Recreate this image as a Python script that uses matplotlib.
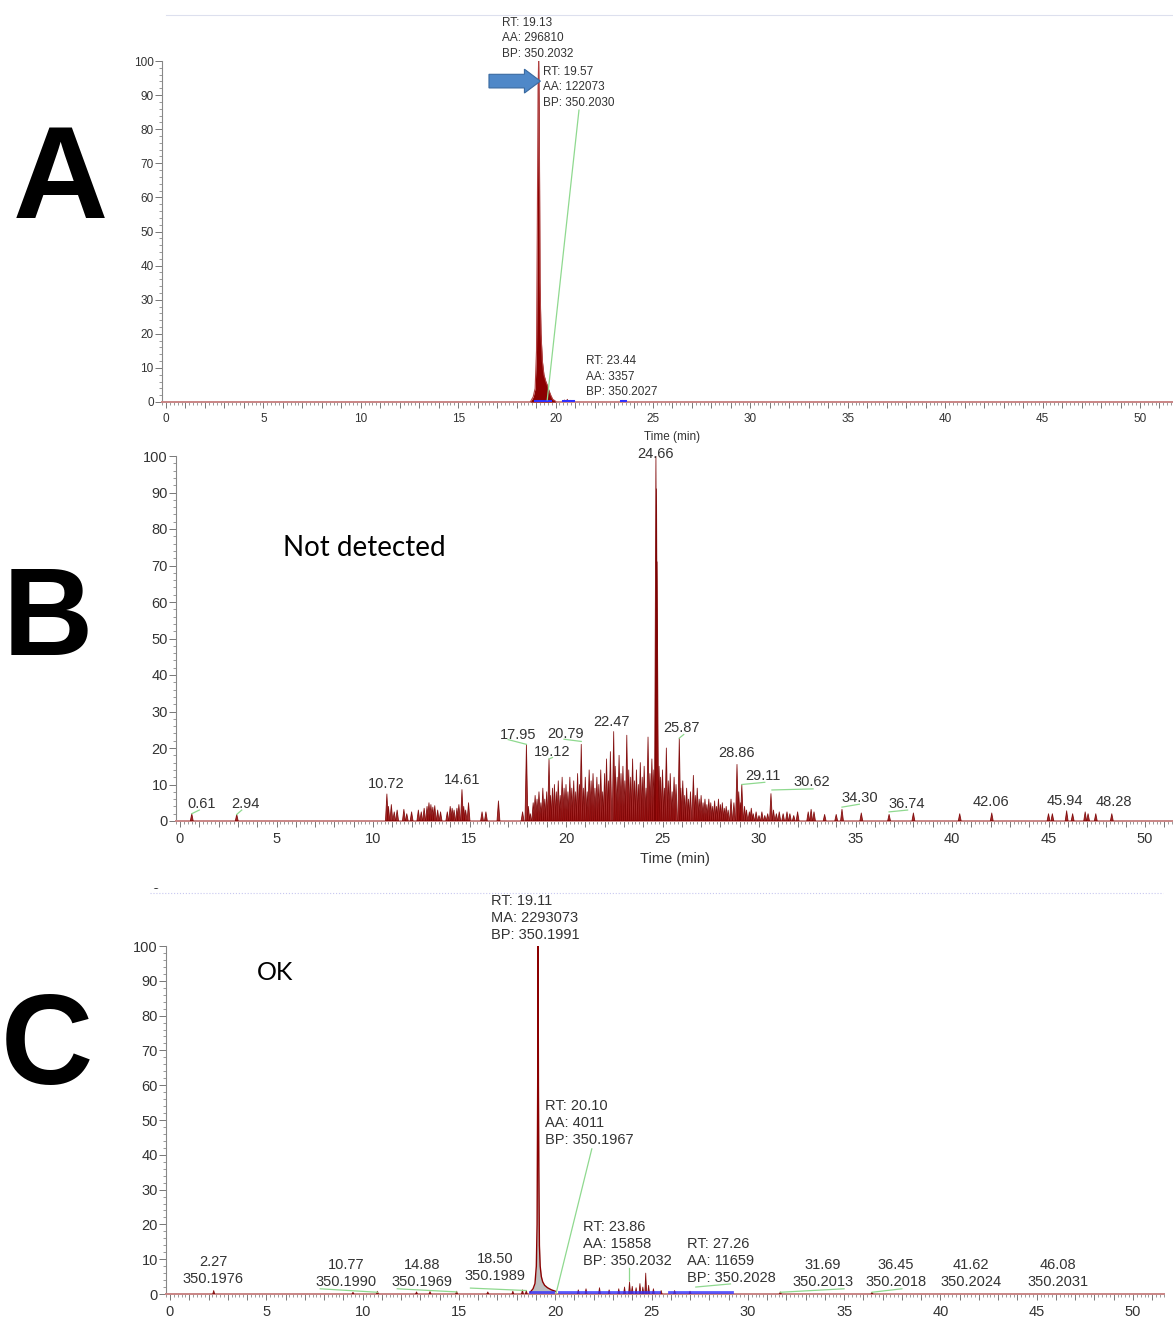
import numpy as np
import matplotlib.pyplot as plt
from matplotlib.collections import PolyCollection
from matplotlib.patches import Polygon
from matplotlib.ticker import MultipleLocator, FuncFormatter
from matplotlib.transforms import Bbox

plt.rcParams['font.family'] = ['Liberation Sans', 'DejaVu Sans']

W, H = 1173, 1322
DARK = '#8b0000'
EDGE = '#b04040'
GREEN = '#8fd98f'
BLUE = '#3030ff'
TXT = '#333333'

# ---- Panel A : main peak trace ----
a_t = [18.70, 18.85, 18.95, 19.02, 19.06, 19.10, 19.13, 19.16, 19.20, 19.25,
       19.32, 19.40, 19.50, 19.57, 19.65, 19.75, 19.85, 20.00]
a_h = [0.0, 1.5, 4.0, 15.0, 50.0, 92.0, 100.0, 85.0, 35.0, 20.0,
       12.0, 8.0, 6.0, 5.0, 3.5, 2.0, 0.8, 0.2]
a_small_t = [20.45, 20.60, 20.75, 23.44]
a_small_h = [0.6, 0.8, 0.5, 0.5]
a_blue = [(18.95, 19.70), (20.40, 20.90), (23.35, 23.55)]

# ---- Panel B : spikes (time, relative abundance) ----
b_t = [0.61, 2.94,
       10.72, 10.80, 10.95, 11.10, 11.25, 11.60, 11.75, 12.00, 12.35, 12.50, 12.65,
       12.80, 12.90, 13.00, 13.10, 13.20, 13.35, 13.50, 13.85, 14.00, 14.10, 14.20,
       14.35, 14.45, 14.61, 14.70, 14.80, 14.95, 15.65, 15.85, 16.50,
       17.75, 17.95, 18.05, 18.15, 18.30, 18.40, 18.50, 18.60, 18.70, 18.80, 18.90,
       19.00, 19.12, 19.20, 19.30, 19.40, 19.50, 19.60, 19.70, 19.80, 19.90, 20.00,
       20.10, 20.20, 20.30, 20.40, 20.50, 20.60, 20.70, 20.79, 20.90, 21.00, 21.10,
       21.20, 21.30, 21.40, 21.50, 21.60, 21.70, 21.80, 21.90, 22.00, 22.10, 22.20,
       22.30, 22.47, 22.55, 22.65, 22.75, 22.85, 22.95, 23.05, 23.15, 23.25, 23.35,
       23.45, 23.55, 23.65, 23.75, 23.85, 23.95, 24.05, 24.15, 24.25, 24.35, 24.45,
       24.55, 24.66, 24.69, 24.72, 24.82, 24.90, 25.00, 25.10, 25.20, 25.30, 25.40,
       25.50, 25.60, 25.70, 25.87, 25.95, 26.05, 26.15, 26.25, 26.35, 26.45, 26.60,
       26.70, 26.80, 26.90, 27.00, 27.10, 27.20, 27.30, 27.40, 27.50, 27.60, 27.70,
       27.80, 27.90, 28.00, 28.10, 28.20, 28.30, 28.40, 28.55, 28.70, 28.86, 28.95,
       29.05, 29.11, 29.25, 29.35, 29.50, 29.60, 29.70, 29.85, 30.00, 30.15, 30.30,
       30.45, 30.62, 30.75, 30.90, 31.05, 31.25, 31.45, 31.60, 31.80, 32.00, 32.55,
       32.70, 32.85, 33.40, 34.00, 34.30, 35.30, 36.74, 38.00, 40.40, 42.06, 45.00,
       45.20, 45.94, 46.25, 46.90, 47.05, 47.45, 48.28]
b_h = [2.0, 1.8,
       7.4, 4.0, 4.5, 2.5, 3.0, 3.2, 2.0, 2.5, 3.0, 2.5, 3.5,
       4.0, 5.0, 4.5, 3.8, 4.2, 3.0, 2.5, 2.5, 4.0, 3.5, 3.0,
       3.5, 4.5, 8.6, 4.0, 3.0, 5.0, 2.5, 2.5, 5.5,
       2.5, 21.0, 4.0, 2.0, 5.0, 7.0, 6.0, 8.0, 5.0, 9.0, 6.0,
       8.0, 17.0, 7.0, 9.0, 10.0, 8.0, 11.0, 7.0, 12.0, 9.0, 10.0,
       8.0, 12.0, 9.0, 11.0, 8.0, 13.0, 10.0, 21.0, 9.0, 12.0, 8.0,
       14.0, 11.0, 13.0, 9.0, 12.0, 10.0, 14.0, 8.0, 13.0, 17.0, 11.0,
       19.0, 24.5, 15.0, 12.0, 18.0, 13.0, 15.0, 11.0, 23.5, 14.0, 12.0,
       17.0, 11.0, 14.0, 10.0, 16.0, 12.0, 15.0, 9.0, 23.0, 13.0, 17.0,
       14.0, 100.0, 91.0, 71.0, 15.0, 12.0, 14.0, 9.0, 20.0, 11.0, 13.0,
       8.0, 12.0, 10.0, 22.7, 9.0, 11.0, 7.0, 9.0, 6.0, 8.0, 12.5,
       7.0, 9.0, 6.0, 7.0, 5.0, 6.0, 4.5, 6.0, 5.0, 4.0, 5.5,
       4.0, 6.0, 4.5, 5.0, 3.5, 4.0, 3.0, 6.0, 5.0, 15.5, 8.0,
       5.0, 10.0, 4.0, 3.0, 2.5, 3.5, 2.0, 2.5, 1.5, 2.5, 1.5,
       2.0, 7.5, 3.0, 2.0, 2.5, 2.0, 2.5, 2.0, 1.5, 2.5, 2.5,
       3.2, 2.5, 1.8, 1.8, 3.2, 2.2, 1.8, 2.2, 2.0, 2.2, 2.0,
       2.0, 2.8, 2.0, 2.5, 2.0, 2.0, 2.0]
b_labels = ['0.61', '2.94', '10.72', '14.61', '17.95', '19.12', '20.79', '22.47',
            '25.87', '28.86', '29.11', '30.62', '34.30', '36.74', '42.06', '45.94', '48.28']
b_label_x = [1.14, 3.37, 10.67, 14.61, 17.51, 19.27, 20.00, 22.38,
             26.01, 28.81, 30.21, 32.75, 35.23, 37.67, 42.02, 45.85, 48.39]
b_label_y = [4.7, 4.7, 10.1, 11.2, 23.6, 18.9, 23.8, 27.1,
             25.5, 18.6, 12.3, 10.7, 6.3, 4.7, 5.2, 5.5, 5.2]

# ---- Panel C : main peak trace + small features ----
c_t = [18.70, 18.85, 18.95, 19.02, 19.06, 19.09, 19.11, 19.13, 19.15, 19.18,
       19.22, 19.28, 19.35, 19.45, 19.60, 19.80, 20.00]
c_h = [0.5, 1.5, 3.0, 8.0, 20.0, 60.0, 100.0, 60.0, 36.0, 14.0,
       8.0, 5.0, 3.5, 2.5, 1.8, 1.2, 0.8]
c_small_t = [2.27, 9.50, 10.77, 12.80, 13.50, 14.88, 16.50, 17.80, 18.30, 18.50,
             21.20, 21.60, 22.30, 22.80, 23.30, 23.60, 23.86, 24.00, 24.20, 24.40,
             24.55, 24.70, 24.85, 25.10, 25.50, 26.20, 27.00, 31.69, 36.45]
c_small_h = [1.0, 0.5, 0.8, 0.6, 0.7, 0.8, 0.6, 0.8, 1.2, 1.0,
             1.2, 1.5, 1.8, 1.2, 1.5, 2.0, 3.5, 2.2, 1.8, 3.0,
             2.0, 6.0, 2.5, 1.5, 1.0, 1.0, 0.8, 0.6, 0.5]
c_blue = [(18.70, 19.90), (20.20, 25.40), (25.90, 29.20)]
c_labels_rt = ['2.27', '10.77', '14.88', '18.50', '31.69', '36.45', '41.62', '46.08']
c_labels_bp = ['350.1976', '350.1990', '350.1969', '350.1989',
               '350.2013', '350.2018', '350.2024', '350.2031']
c_label_x = [2.23, 9.14, 13.08, 16.87, 33.90, 37.70, 41.59, 46.10]
c_label_y = [9.2, 8.3, 8.3, 10.1, 8.3, 8.3, 8.3, 8.3]

fig = plt.figure(figsize=(W / 100, H / 100), dpi=100)


def panel(x0, sx, y0, sy, xlim, ylim, fs):
    left, right = x0 + xlim[0] * sx, x0 + xlim[1] * sx
    bottom, top = y0 - ylim[0] * sy, y0 - ylim[1] * sy
    ax = fig.add_axes([left / W, 1 - bottom / H, (right - left) / W, (bottom - top) / H])
    ax.set_xlim(xlim)
    ax.set_ylim(ylim)
    for s in ['top', 'right']:
        ax.spines[s].set_visible(False)
    ax.spines['left'].set_color('#888888')
    ax.spines['left'].set_linewidth(0.8)
    ax.spines['bottom'].set_color('#c98585')
    ax.spines['bottom'].set_linewidth(1.4)
    ax.xaxis.set_major_locator(MultipleLocator(1))
    ax.xaxis.set_minor_locator(MultipleLocator(0.2))
    ax.xaxis.set_major_formatter(FuncFormatter(lambda v, p: f'{v:.0f}' if round(v) % 5 == 0 else ''))
    ax.yaxis.set_major_locator(MultipleLocator(10))
    ax.yaxis.set_minor_locator(MultipleLocator(2))
    ax.tick_params(axis='x', which='major', length=4.5, width=0.7, color='#777777',
                   labelsize=fs, labelcolor=TXT, pad=3.5)
    ax.tick_params(axis='x', which='minor', length=2.2, width=0.6, color='#888888')
    ax.tick_params(axis='y', which='major', length=5, width=0.7, color='#777777',
                   labelsize=fs, labelcolor=TXT, pad=1)
    ax.tick_params(axis='y', which='minor', length=2.5, width=0.6, color='#888888')
    return ax


def spikes(ax, t, h, w=0.05):
    polys = [[(ti - w, 0), (ti, hi), (ti + w, 0)] for ti, hi in zip(t, h)]
    ax.add_collection(PolyCollection(polys, facecolors='#9a1010', edgecolors='#7a0000',
                                     linewidths=0.6, alpha=0.88, zorder=3))


def block(ax, x, y, lines, step, fs, ha='left'):
    for i, s in enumerate(lines):
        ax.annotate(s, (x, y), xytext=(0, -i * step), textcoords='offset points',
                    ha=ha, va='center', fontsize=fs, color=TXT, annotation_clip=False)


def gline(ax, xs, ys):
    ax.plot(xs, ys, color=GREEN, lw=0.9, clip_on=False, zorder=4)


# ================= Panel A =================
axA = panel(166, 19.48, 402, 3.41, (-0.2, 51.7), (0, 100), 8.5)
axA.fill_between(a_t, a_h, color=DARK, lw=0, zorder=3)
axA.plot(a_t, a_h, color=EDGE, lw=0.8, zorder=3)
spikes(axA, a_small_t, a_small_h)
for s0, s1 in a_blue:
    axA.plot([s0, s1], [0.4, 0.4], color=BLUE, lw=2.2, zorder=4)
block(axA, 17.25, 111.2, ['RT: 19.13', 'AA: 296810', 'BP: 350.2032'], 11.2, 8.5)
block(axA, 19.35, 96.8, ['RT: 19.57', 'AA: 122073', 'BP: 350.2030'], 11.2, 8.5)
block(axA, 21.56, 12.0, ['RT: 23.44', 'AA: 3357', 'BP: 350.2027'], 11.2, 8.5)
gline(axA, [21.2, 19.57], [85.6, 0.6])
arrow = Polygon([(16.58, 96.1), (18.40, 96.1), (18.40, 97.6), (19.22, 94.1),
                 (18.40, 90.6), (18.40, 92.1), (16.58, 92.1)], closed=True,
                fc='#4f88c8', ec='#3a6aa0', lw=0.8, clip_on=False, zorder=5)
axA.add_patch(arrow)
axA.set_xlabel('Time (min)', fontsize=8.5, color=TXT, labelpad=1)
axA.xaxis.set_label_coords((672 - 162) / (1173 - 162), -0.086)

# ================= Panel B =================
axB = panel(180, 19.3, 821, 3.65, (-0.2, 51.5), (0, 100), 10.5)
spikes(axB, b_t, b_h, w=0.075)
for s, x, y in zip(b_labels, b_label_x, b_label_y):
    axB.text(x, y, s, ha='center', va='center', fontsize=10.5, color=TXT, clip_on=False)
gline(axB, [0.61, 1.0], [2.0, 3.0])
gline(axB, [2.94, 3.2], [1.8, 3.0])
gline(axB, [17.0, 17.95], [22.3, 21.0])
gline(axB, [19.12, 19.3], [17.0, 17.4])
gline(axB, [19.9, 20.79], [22.4, 21.8])
gline(axB, [25.87, 26.1], [22.7, 23.7])
gline(axB, [29.11, 30.3], [10.0, 10.6])
gline(axB, [30.67, 32.8], [8.5, 8.8])
gline(axB, [34.3, 35.2], [3.8, 4.6])
gline(axB, [36.74, 37.7], [2.5, 3.0])
# peak label cut by the top of the panel, as in the original screenshot
top_lbl = axB.text(24.66, 100.6, '24.66', ha='center', va='center', fontsize=10.5, color=TXT)
top_lbl.set_clip_on(True)
top_lbl.set_clip_box(Bbox.from_extents(600, H - 470, 720, H - 447))
axB.text(5.34, 74.8, 'Not detected', ha='left', va='center', fontsize=20,
         family=['Lato', 'DejaVu Sans'], color='black')
axB.set_xlabel('Time (min)', fontsize=10.5, color=TXT, labelpad=4)

# ================= Panel C =================
axC = panel(170, 19.26, 1294, 3.48, (-0.2, 51.6), (0, 100), 10.5)
axC.fill_between(c_t, c_h, color='#bdbdbd', lw=0, zorder=2)
axC.plot(c_t, c_h, color=DARK, lw=1.0, zorder=3)
spikes(axC, c_small_t, c_small_h)
for s0, s1 in c_blue:
    axC.plot([s0, s1], [0.6, 0.6], color=BLUE, lw=2.0, alpha=0.8, zorder=4)
block(axC, 16.67, 112.9, ['RT: 19.11', 'MA: 2293073', 'BP: 350.1991'], 12.2, 10.5)
block(axC, 19.47, 54.0, ['RT: 20.10', 'AA: 4011', 'BP: 350.1967'], 12.2, 10.5)
block(axC, 21.44, 19.3, ['RT: 23.86', 'AA: 15858', 'BP: 350.2032'], 12.2, 10.5)
block(axC, 26.84, 14.4, ['RT: 27.26', 'AA: 11659', 'BP: 350.2028'], 12.2, 10.5)
for r, b, x, y in zip(c_labels_rt, c_labels_bp, c_label_x, c_label_y):
    block(axC, x, y, [r, b], 12.2, 10.5, ha='center')
gline(axC, [21.9, 20.05], [41.7, 0.3])
gline(axC, [23.83, 23.83], [7.5, 4.0])
gline(axC, [27.3, 29.1], [2.0, 2.9])
gline(axC, [7.8, 10.77], [1.5, 0.5])
gline(axC, [11.8, 14.88], [1.5, 0.6])
gline(axC, [15.6, 18.5], [1.7, 1.0])
gline(axC, [31.69, 35.0], [0.5, 1.5])
gline(axC, [36.45, 38.0], [0.5, 1.5])
axC.text(4.52, 92.5, 'OK', ha='left', va='center', fontsize=18,
         family=['Lato', 'DejaVu Sans'], color='black')

# ---- decorations: frame lines, cut-off labels, panel letters ----
fig.add_artist(plt.Line2D([166 / W, 1173 / W], [1 - 15 / H] * 2, color='#dde0ee', lw=0.8))
fig.add_artist(plt.Line2D([150 / W, 1163 / W], [1 - 893 / H] * 2, color='#c8c8f0', lw=0.8,
                          ls=':'))
z1 = fig.text(152 / W, 1 - 9 / H, '0', ha='center', va='center', fontsize=8.5, color=TXT)
z1.set_clip_box(Bbox.from_extents(140, H - 20, 165, H - 12))
z1.set_clip_on(True)
z2 = fig.text(155 / W, 1 - 885 / H, '0', ha='center', va='center', fontsize=10.5, color=TXT)
z2.set_clip_box(Bbox.from_extents(140, H - 896, 170, H - 888))
z2.set_clip_on(True)

for letter, x, y, fs in [('A', 60, 183, 95), ('B', 48, 623, 90), ('C', 47, 1051, 92)]:
    fig.text(x / W, 1 - y / H, letter, ha='center', va='center', fontsize=fs,
             fontweight='bold', color='black')

fig.savefig('out.png', dpi=100)
